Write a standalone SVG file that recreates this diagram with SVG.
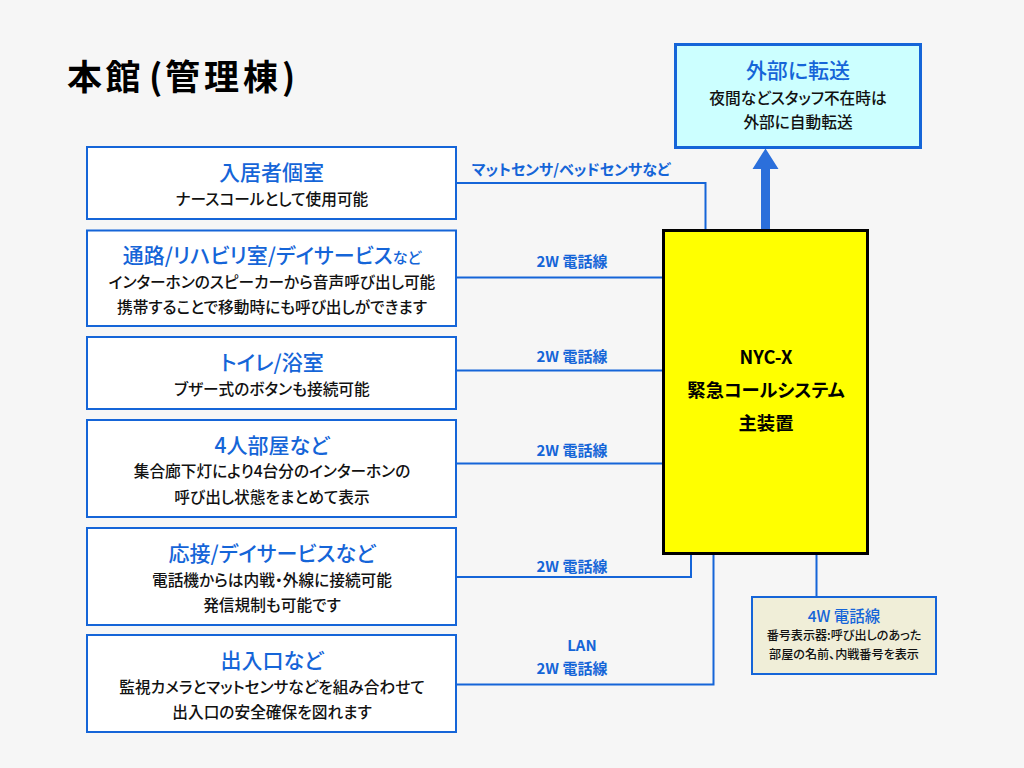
<svg xmlns="http://www.w3.org/2000/svg" width="1024" height="768" viewBox="0 0 1024 768">
<style>
text{font-family:"Noto Sans CJK JP","Noto Sans",sans-serif;text-anchor:middle;font-feature-settings:"palt"}
.box{fill:#fff;stroke:#1565d8;stroke-width:2}
.h{font-size:21px;fill:#1565d8;font-weight:500}
.b{font-size:15.700px;fill:#111;font-weight:500}
.l{font-size:15px;fill:#1565d8;font-weight:700}
.c{fill:none;stroke:#1565d8;stroke-width:2}
.m{font-size:18.300px;font-weight:700;fill:#000}
.s{font-size:12.100px;fill:#111;font-weight:500}
.t{font-size:35px;font-weight:700;fill:#000;text-anchor:start;font-feature-settings:normal}
</style>
<rect width="1024" height="768" fill="#f6f6f6"/>
<text class="t" y="90" x="67 105.500 149 165 204 243 282">本館(管理棟)</text>
<g id="connectors">
<path class="c" d="M456 183H705.500V230"/>
<path class="c" d="M456 277.500H664"/>
<path class="c" d="M456 370.500H664"/>
<path class="c" d="M456 463.500H664"/>
<path class="c" d="M456 577H691V554"/>
<path class="c" d="M456 684.500H713.500V554"/>
<path class="c" d="M816.500 554V597"/>
<path d="M761 230V169H752.500L765.500 148.500L778.500 169H770V230Z" fill="#2b6fdb"/>
<text class="l" x="571" y="175">マットセンサ/ベッドセンサなど</text>
<text class="l" x="572" y="267">2W 電話線</text>
<text class="l" x="572" y="362">2W 電話線</text>
<text class="l" x="572" y="456">2W 電話線</text>
<text class="l" x="572" y="572">2W 電話線</text>
<text class="l" x="582" y="651">LAN</text>
<text class="l" x="572" y="674">2W 電話線</text>
</g>
<g id="node-room"><rect class="box" x="87" y="147" width="369" height="72"/>
<text class="h" x="271.500" y="180">入居者個室</text><text class="b" x="272" y="205">ナースコールとして使用可能</text></g>
<g id="node-corridor"><rect class="box" x="87" y="230.500" width="369" height="95.500"/>
<text class="h" x="272" y="263"><tspan>通路/リハビリ室/デイサービス</tspan><tspan style="font-size:15px">など</tspan></text>
<text class="b" x="272" y="288">インターホンのスピーカーから音声呼び出し可能</text><text class="b" x="272" y="313">携帯することで移動時にも呼び出しができます</text></g>
<g id="node-toilet"><rect class="box" x="87" y="337" width="369" height="72"/>
<text class="h" x="272" y="370">トイレ/浴室</text><text class="b" x="272" y="395">ブザー式のボタンも接続可能</text></g>
<g id="node-four"><rect class="box" x="87" y="420" width="369" height="97"/>
<text class="h" x="272" y="453">4人部屋など</text><text class="b" x="272" y="477">集合廊下灯により4台分のインターホンの</text><text class="b" x="272" y="503">呼び出し状態をまとめて表示</text></g>
<g id="node-reception"><rect class="box" x="87" y="528" width="369" height="97"/>
<text class="h" x="272" y="561">応接/デイサービスなど</text><text class="b" x="272" y="586">電話機からは内戦・外線に接続可能</text><text class="b" x="272" y="611">発信規制も可能です</text></g>
<g id="node-entrance"><rect class="box" x="87" y="635" width="369" height="97"/>
<text class="h" x="272" y="668">出入口など</text><text class="b" x="272" y="693">監視カメラとマットセンサなどを組み合わせて</text><text class="b" x="272" y="718">出入口の安全確保を図れます</text></g>
<g id="node-main"><rect x="663.500" y="230.500" width="204" height="323" fill="#ff0" stroke="#000" stroke-width="3"/>
<text class="m" x="766" y="364">NYC-X</text><text class="m" x="766" y="397">緊急コールシステム</text><text class="m" x="766" y="430">主装置</text></g>
<g id="node-forward"><rect x="675.500" y="44.500" width="245" height="103" fill="#ccffff" stroke="#1565d8" stroke-width="3"/>
<text class="h" x="798" y="78">外部に転送</text><text class="b" x="798" y="104">夜間などスタッフ不在時は</text><text class="b" x="798" y="128">外部に自動転送</text></g>
<g id="node-display"><rect x="752" y="597" width="184" height="77" fill="#f0eed8" stroke="#1565d8" stroke-width="2"/>
<text x="844" y="622" style="font-size:15.500px;font-weight:500" fill="#1565d8">4W 電話線</text><text class="s" x="844" y="640">番号表示器:呼び出しのあった</text><text class="s" x="844" y="659">部屋の名前、内戦番号を表示</text></g>
</svg>
